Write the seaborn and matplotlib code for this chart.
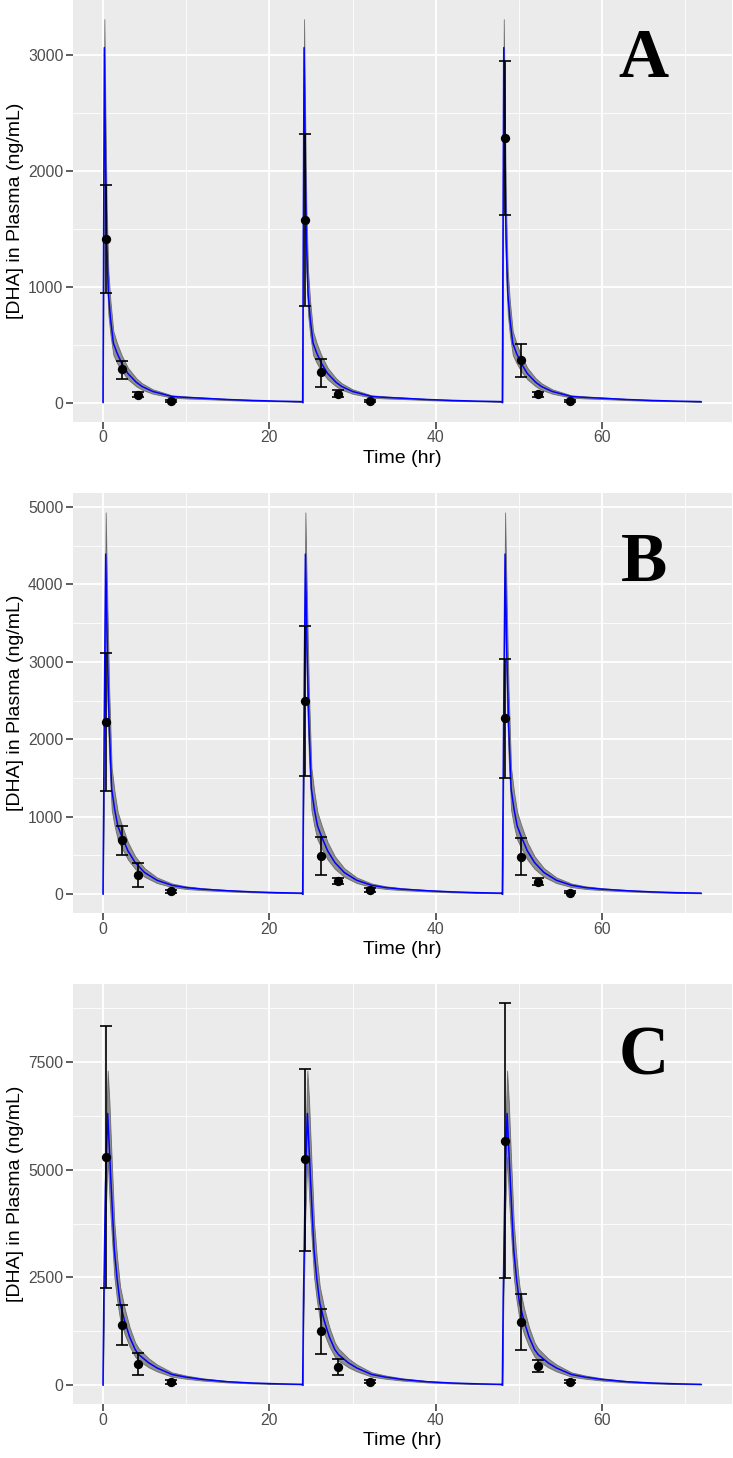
import matplotlib
matplotlib.use("Agg")
import matplotlib.pyplot as plt
import seaborn as sns
import numpy as np
import pandas as pd
from matplotlib.ticker import MultipleLocator

sns.set_theme(style='darkgrid')
plt.rcParams['font.family'] = ['Liberation Sans', 'DejaVu Sans']

# observed sampling times (hr), shared by the three panels
obs_time = [0.35, 2.25, 4.25, 8.15, 24.3, 26.25, 28.25, 32.15, 48.3, 50.3, 52.25, 56.15]
dose_times = [0, 24, 48]

# --- panel A ---
obs_A = [1410, 288, 66, 15, 1575, 259, 75, 15, 2283, 363, 70, 15]
obs_lo_A = [940, 205, 48, 8, 835, 138, 50, 6, 1621, 219, 52, 8]
obs_hi_A = [1874, 360, 90, 22, 2318, 377, 105, 25, 2945, 507, 90, 22]
# model profile after one dose (repeats every dose)
t_A = [0, 0.08, 0.17, 0.3, 0.45, 0.65, 0.9, 1.25, 1.7, 2.25, 3.0, 4.0, 4.7, 6.0, 8.3, 10, 12, 15, 18, 21, 23.9]
pred_A = [0, 1500, 3060, 2100, 1400, 945, 730, 513, 425, 340, 250, 175, 138, 95, 52, 44, 37, 26, 18, 12, 8]
pred_lo_A = [0, 1250, 2800, 1700, 1130, 760, 585, 410, 340, 272, 200, 140, 110, 76, 42, 35, 30, 21, 14, 10, 6]
pred_hi_A = [0, 1750, 3305, 2500, 1680, 1135, 875, 615, 510, 408, 300, 210, 166, 114, 62, 53, 44, 31, 22, 14, 10]

# --- panel B ---
obs_B = [2224, 697, 245, 35, 2496, 495, 168, 55, 2268, 486, 159, 22]
obs_lo_B = [1334, 508, 95, 20, 1527, 245, 130, 30, 1502, 254, 120, 10]
obs_hi_B = [3111, 882, 400, 50, 3464, 740, 205, 75, 3034, 723, 215, 35]
t_B = [0, 0.15, 0.33, 0.53, 0.75, 1.05, 1.4, 1.78, 2.25, 3.0, 3.87, 5.0, 6.5, 8.3, 10, 12, 15, 18, 21, 23.9]
pred_B = [0, 2200, 4390, 3120, 2200, 1360, 1100, 882, 750, 560, 409, 280, 180, 115, 85, 65, 45, 30, 20, 14]
pred_lo_B = [0, 1850, 3900, 2500, 1760, 1090, 880, 705, 600, 448, 327, 224, 144, 92, 68, 52, 36, 24, 16, 11]
pred_hi_B = [0, 2600, 4928, 3750, 2640, 1630, 1320, 1060, 900, 672, 490, 336, 216, 138, 102, 78, 54, 36, 24, 17]

# --- panel C ---
obs_C = [5301, 1389, 502, 70, 5240, 1266, 425, 80, 5664, 1460, 440, 79]
obs_lo_C = [2254, 926, 248, 30, 3125, 733, 232, 40, 2478, 826, 310, 40]
obs_hi_C = [8343, 1852, 750, 120, 7347, 1775, 610, 130, 8866, 2115, 595, 120]
t_C = [0, 0.1, 0.3, 0.57, 0.77, 0.97, 1.37, 1.7, 2.06, 2.6, 3.2, 3.87, 4.3, 5.5, 6.5, 8.3, 10, 12, 15, 18, 21, 23.9]
pred_C = [0, 2000, 4600, 6305, 5500, 4685, 3137, 2470, 1907, 1490, 1125, 826, 711, 518, 400, 248, 186, 133, 80, 50, 32, 20]
pred_lo_C = [0, 1650, 3800, 5300, 4400, 3750, 2510, 1975, 1525, 1190, 900, 660, 570, 415, 320, 198, 149, 106, 64, 40, 26, 16]
pred_hi_C = [0, 2400, 5400, 7300, 6600, 5620, 3765, 2965, 2290, 1790, 1350, 990, 853, 622, 480, 298, 223, 160, 96, 60, 38, 24]

panels = [
    ('A', obs_A, obs_lo_A, obs_hi_A, t_A, pred_A, pred_lo_A, pred_hi_A, 1000, 500, 2810),
    ('B', obs_B, obs_lo_B, obs_hi_B, t_B, pred_B, pred_lo_B, pred_hi_B, 1000, 500, 4045),
    ('C', obs_C, obs_lo_C, obs_hi_C, t_C, pred_C, pred_lo_C, pred_hi_C, 2500, 1250, 7215),
]

W, H = 733, 1458
fig = plt.figure(figsize=(W / 100, H / 100), dpi=100)
# panel rectangles in pixels: (top, bottom)
rects = [(0, 421.7), (493.3, 913.3), (984, 1404.3)]
left_px, right_px = 73, 732

for (letter, obs, olo, ohi, tp, pr, plo, phi, major, minor, lety), (top, bot) in zip(panels, rects):
    ax = fig.add_axes([left_px / W, 1 - bot / H, (right_px - left_px) / W, (bot - top) / H])
    ax.set_facecolor('#EBEBEB')

    model = pd.DataFrame({
        'time': np.concatenate([np.array(tp) + d for d in dose_times]),
        'conc': np.tile(pr, len(dose_times)),
        'lo': np.tile(plo, len(dose_times)),
        'hi': np.tile(phi, len(dose_times)),
    })
    ax.fill_between(model['time'], model['lo'], model['hi'], facecolor='#7F7F7F',
                    edgecolor='#5E5E5E', alpha=0.85, linewidth=0.6, zorder=2)
    sns.lineplot(data=model, x='time', y='conc', ax=ax, color='#0000FF',
                 linewidth=1.1, estimator=None, zorder=3)

    obs_df = pd.DataFrame({'time': obs_time, 'conc': obs, 'lo': olo, 'hi': ohi})
    ax.errorbar(obs_df['time'], obs_df['conc'],
                yerr=[obs_df['conc'] - obs_df['lo'], obs_df['hi'] - obs_df['conc']],
                fmt='none', ecolor='black', elinewidth=1.2, capsize=4, capthick=1.2,
                zorder=4)
    sns.scatterplot(data=obs_df, x='time', y='conc', ax=ax, color='black', s=45,
                    edgecolor='black', linewidth=0, zorder=5)

    # ggplot-like 5% expansion
    ymin = min(min(olo), min(plo))
    ymax = max(max(ohi), max(phi))
    yr = ymax - ymin
    ax.set_ylim(ymin - 0.05 * yr, ymax + 0.05 * yr)
    ax.set_xlim(-3.6, 75.6)

    ax.xaxis.set_major_locator(MultipleLocator(20))
    ax.xaxis.set_minor_locator(MultipleLocator(10))
    ax.yaxis.set_major_locator(MultipleLocator(major))
    ax.yaxis.set_minor_locator(MultipleLocator(minor))
    ax.grid(which='major', color='white', linewidth=1.3)
    ax.grid(which='minor', color='white', linewidth=0.6)
    ax.set_axisbelow(True)
    for s in ax.spines.values():
        s.set_visible(False)
    ax.tick_params(which='major', bottom=True, left=True, length=4.7, width=1.1,
                   color='#333333', labelcolor='#4D4D4D', labelsize=11.3)
    ax.tick_params(axis='x', which='major', pad=1.6)
    ax.tick_params(axis='y', which='major', pad=2.2)
    ax.tick_params(which='minor', length=0)

    ax.set_xlabel('Time (hr)', fontsize=14, color='black')
    ax.set_ylabel('[DHA] in Plasma (ng/mL)', fontsize=14, color='black')
    ax.xaxis.set_label_coords(0.5, -28 / (bot - top))
    ax.yaxis.set_label_coords(-49 / (right_px - left_px), 0.5)

    ax.text(65, lety, letter, ha='center', va='baseline', fontsize=50, color='black',
            fontweight='bold', family=['Liberation Serif', 'DejaVu Serif'], zorder=6)

fig.savefig('out.png', dpi=100)
